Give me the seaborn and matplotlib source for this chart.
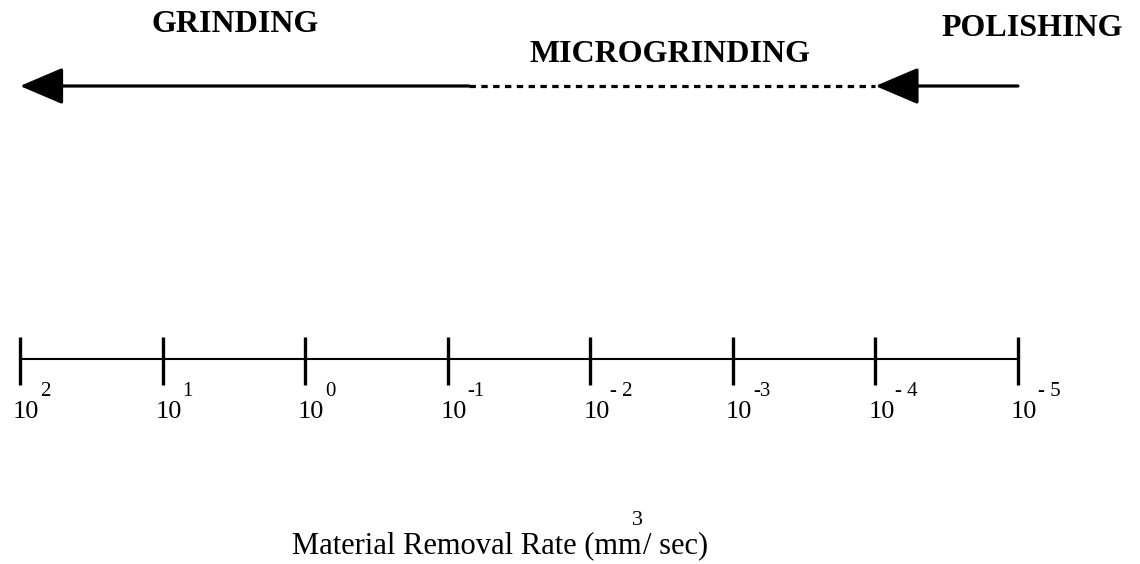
import matplotlib
matplotlib.use("Agg")
import matplotlib.pyplot as plt
import seaborn as sns
import pandas as pd

# ---------------- data ----------------
exponents = [2, 1, 0, -1, -2, -3, -4, -5]
exponent_labels = ["2", "1", "0", "-1", "- 2", "-3", "- 4", "- 5"]
tick_base = "10"

regime_names = ["GRINDING", "MICROGRINDING", "POLISHING"]
# spans on the exponent axis: (start, end); arrowhead sits at the end
grinding_span = (-1.15, 2)
microgrinding_span = (-1.15, -4)
polishing_span = (-5, -4)

axis_label_main = "Material Removal Rate (mm"
axis_label_sup = "3"
axis_label_tail = "/ sec)"

# ---------------- style ----------------
sns.set_theme(style="white")
plt.rcParams["font.family"] = ["Liberation Serif", "DejaVu Serif"]

fig = plt.figure(figsize=(11.4, 5.64), dpi=100)
ax = fig.add_axes([0, 0, 1, 1])

SCALE_Y = 359
ARROW_Y = 86

# scale line
df = pd.DataFrame({"exp": exponents, "y": [SCALE_Y] * len(exponents)})
sns.lineplot(data=df, x="exp", y="y", color="black", lw=1.5, ax=ax, legend=False)
# tick marks
ax.vlines(exponents, SCALE_Y - 22, SCALE_Y + 26, color="black", lw=2.4)

# tick labels 10^e
for e, lab in zip(exponents, exponent_labels):
    ax.annotate(tick_base, xy=(e, SCALE_Y), xytext=(-7, -53),
                textcoords="offset pixels", ha="left", va="center",
                fontsize=19, color="black")
    ax.annotate(lab, xy=(e, SCALE_Y), xytext=(20, -33),
                textcoords="offset pixels", ha="left", va="center",
                fontsize=15, color="black")

# regime arrows
head = "-|>,head_length=27,head_width=11.5"
arrow_kw = dict(arrowstyle=head, mutation_scale=1, lw=2.3, color="black",
                shrinkA=0, shrinkB=0)
ax.annotate("", xy=(grinding_span[1], ARROW_Y), xytext=(grinding_span[0], ARROW_Y),
            arrowprops=arrow_kw)
ax.plot(list(microgrinding_span), [ARROW_Y, ARROW_Y], color="black", lw=2.3,
        ls=(0, (2.0, 1.7)), solid_capstyle="butt", dash_capstyle="butt")
ax.annotate("", xy=(polishing_span[1], ARROW_Y), xytext=(polishing_span[0], ARROW_Y),
            arrowprops=arrow_kw)

# regime labels
label_pos = [(0.49, 24), (-2.56, 54), (-5.10, 29)]
for name, (x, y) in zip(regime_names, label_pos):
    ax.text(x, y, name, ha="center", va="center", fontsize=23,
            fontweight="bold", color="black")

# axis title with superscript
t1 = ax.text(0.092, 553, axis_label_main, ha="left", va="baseline",
             fontsize=22, color="black")
ax.annotate(axis_label_sup, xy=(1, 1), xycoords=t1, xytext=(-4, 1),
            textcoords="offset pixels", ha="center", va="bottom",
            fontsize=16, color="black")
ax.annotate(axis_label_tail, xy=(1, 0), xycoords=t1, xytext=(1, 0),
            textcoords="offset pixels", ha="left", va="bottom",
            fontsize=22, color="black")

ax.set_xlim(2.140, -5.856)
ax.set_ylim(564, 0)
ax.axis("off")

fig.savefig("out.png", dpi=100, facecolor="white")
